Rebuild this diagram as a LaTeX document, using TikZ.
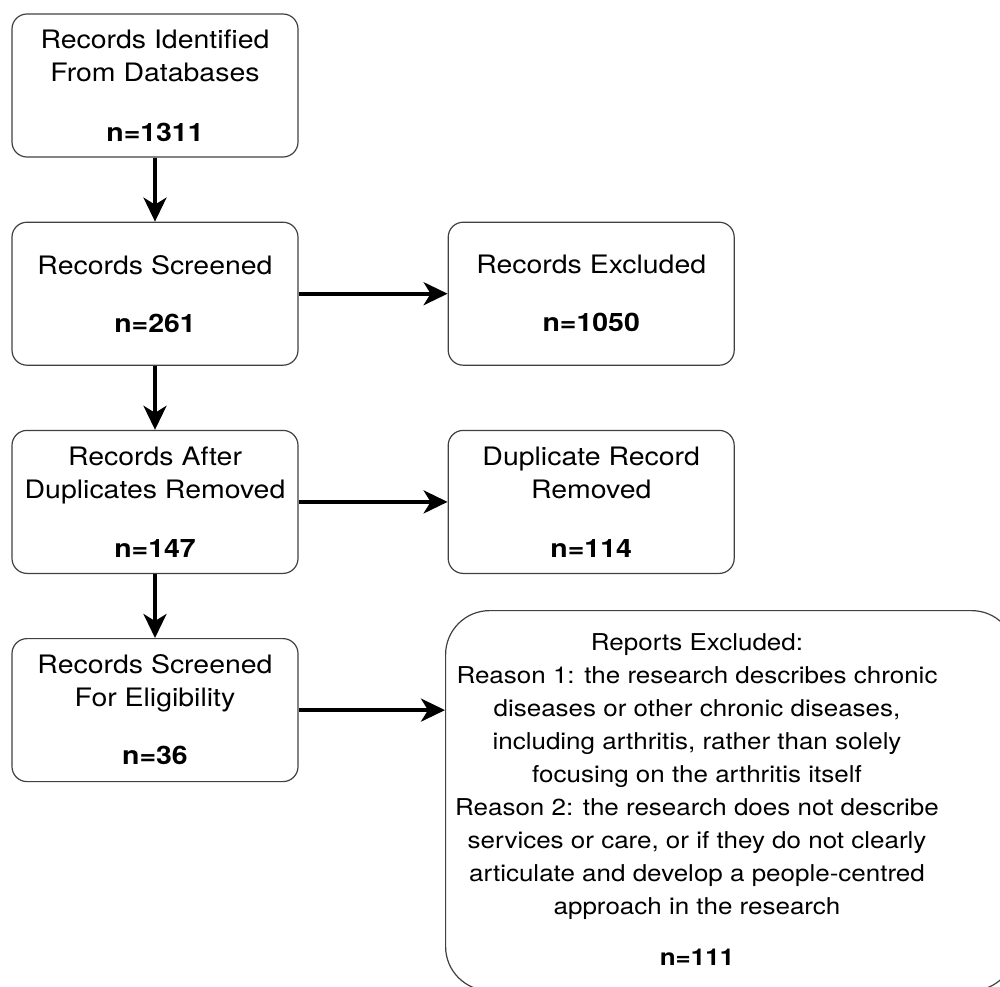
\documentclass[tikz,border=0pt]{standalone}
\usepackage{fontspec}
\setmainfont[FakeStretch=1.12]{TeX Gyre Heros}
\usetikzlibrary{arrows.meta,positioning}

\begin{document}
\begin{tikzpicture}[x=0.5pt,y=-0.5pt,node distance=32pt and 74.5pt,font=\fontsize{11.6pt}{16.5pt}\selectfont]

\tikzset{recbox/.style={draw=black!75,line width=0.6pt,rounded corners=7.5pt,minimum width=143pt,minimum height=71.5pt,inner sep=0pt,align=center,font=\fontsize{12.7pt}{16.5pt}\selectfont},
bigbox/.style={draw=black!75,line width=0.6pt,rounded corners=22pt,minimum width=285pt,minimum height=190pt,inner sep=0pt,anchor=north west},
flow/.style={line width=1.8pt,-{Stealth[length=12pt,width=11.5pt,inset=3.5pt]}}}

% Frame
\useasboundingbox (0,0) rectangle (1000,986);

% Main column
\node[recbox] (ident) at (155,85.5) {Records Identified\\From Databases\\[13.5pt]\textbf{n=1311}};
\node[recbox,below=of ident] (screen) {Records Screened\\[12.5pt]\textbf{n=261}};
\node[recbox,below=of screen] (dedup) {Records After\\Duplicates Removed\\[13pt]\textbf{n=147}};
\node[recbox,below=of dedup] (elig) {Records Screened\\For Eligibility\\[12.5pt]\textbf{n=36}};

% Excluded records
\node[recbox,right=of screen] (excl) {Records Excluded\\[12.5pt]\textbf{n=1050}};
\node[recbox,right=of dedup] (dup) {Duplicate Record\\Removed\\[13pt]\textbf{n=114}};

% Excluded reports
\node[bigbox] (rep) at (445,610) {};
\node[align=center] (reptext) at (697,800) {Reports Excluded:\\
Reason 1: the research describes chronic\\
diseases or other chronic diseases,\\
including arthritis, rather than solely\\
focusing on the arthritis itself\\
Reason 2: the research does not describe\\
services or care, or if they do not clearly\\
articulate and develop a people-centred\\
approach in the research\\[9pt]
\textbf{n=111}};

% Flow edges
\draw[flow] (ident) -- (screen);
\draw[flow] (screen) -- (dedup);
\draw[flow] (dedup) -- (elig);
\draw[flow] (screen) -- (excl);
\draw[flow] (dedup) -- (dup);
\draw[flow] (elig) -- (elig -| rep.west);

\end{tikzpicture}
\end{document}
